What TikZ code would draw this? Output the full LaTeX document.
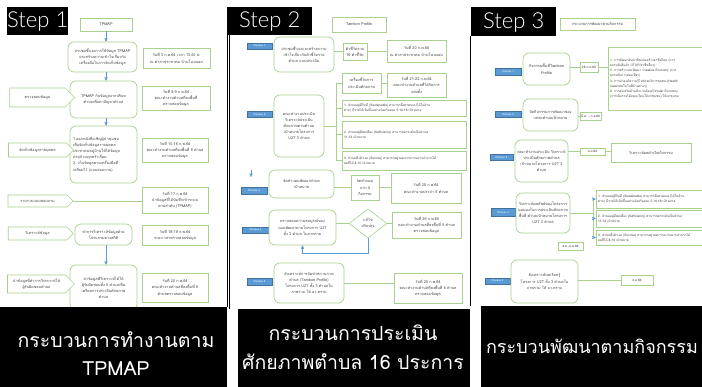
\documentclass[tikz,border=0pt]{standalone}
\usepackage{fontspec}
\newfontfamily\thaifont[Script=Thai]{Loma}
\newfontfamily\stepfont{Lato Light}
\usetikzlibrary{arrows}
\usetikzlibrary{shapes.symbols,shapes.geometric}

\definecolor{boxgreen}{RGB}{169,209,142}
\definecolor{procblue}{RGB}{91,155,213}
\definecolor{procedge}{RGB}{65,113,156}
\definecolor{inktext}{RGB}{64,64,64}

\tikzset{
  wh/.style 2 args={minimum width=#1pt, minimum height=#2pt},
  smalltxt/.style={font=\thaifont\fontsize{3.8}{6.2}\selectfont},
  minitxt/.style={font=\thaifont\fontsize{3.2}{5.2}\selectfont},
  proc/.style={draw=boxgreen, line width=0.7pt, rounded corners=6pt, fill=white, text=inktext, align=center, inner sep=1pt, smalltxt},
  note/.style={draw=boxgreen, line width=0.6pt, fill=white, text=inktext, align=center, inner sep=1pt, smalltxt},
  sig/.style={signal, signal to=east, draw=boxgreen, line width=0.6pt, fill=white, text=inktext, align=center, inner sep=0.5pt, smalltxt},
  check/.style={diamond, draw=boxgreen, line width=0.6pt, fill=white, text=inktext, align=center, inner sep=0pt, smalltxt},
  tag/.style={fill=procblue, draw=procedge, line width=0.3pt, text=white, inner sep=0pt, font=\thaifont\fontsize{2.6}{3}\selectfont},
  link/.style={draw=boxgreen, line width=0.5pt},
  flow/.style={draw=procblue, line width=0.4pt, ->, >=stealth'},
  stepbox/.style={fill=black, text=white, anchor=north west, inner sep=0pt, text depth=3pt, font=\stepfont\fontsize{22}{22}\selectfont},
  capbox/.style={fill=black, anchor=north west, inner sep=0pt},
  captext/.style={text=white, inner sep=0pt, font=\thaifont\fontsize{19.5}{19.5}\selectfont},
}

\begin{document}
\begin{tikzpicture}[x=1pt, y=-1pt]
\useasboundingbox (0,0) rectangle (702,387);
\fill[white] (0,0) rectangle (702,387);

% step 1
\draw[line width=0.8pt] (227.3,35) -- (227.3,307);
\draw[line width=0.8pt] (229.6,35) -- (229.6,309);
\node[stepbox, wh={61}{28}] (step1) at (7,7) {Step 1};
\node[note, wh={52}{13}] (tpmap) at (106,24.5) {TPMAP};
\node[proc, wh={69}{30}] (a1) at (102.5,57) {ประชุมชี้แจงการใช้ข้อมูล TPMAP\\และสร้างความเข้าใจเกี่ยวกับ\\เครื่องมือในการจัดเก็บข้อมูล};
\node[note, wh={67}{20}] (n1) at (176.5,58) {วันที่ 3 ก.พ.64 เวลา 13.00 น.\\ณ ศาลาประชาคม บ้านโนนจอม};
\node[proc, wh={67}{37}] (a2) at (103.5,99.5) {TPMAP กับข้อมูลจากบริบท\\ตำบลเพื่อหาปัญหาตำบล};
\node[sig, wh={65}{19}] (s1) at (37.5,97.5) {ตรวจสอบข้อมูล};
\node[note, wh={68}{24}] (n2) at (176,98) {วันที่ 5-9 ก.พ.64\\คณะทำงานตำบลที่ลงพื้นที่\\ตรวจสอบข้อมูล};
\node[proc, wh={67}{57}, text width=61pt, align=left] (a3) at (103.5,154.5) {1.ออกหนังสือเชิญผู้นำชุมชน\\เพื่อจัดเก็บข้อมูลรายบุคคล\\ประชาคมหมู่บ้านให้ได้ข้อมูล\\ครบถ้วนทุกครัวเรือน\\2. เก็บข้อมูลตามเครื่องมือที่\\เตรียมไว้ (แบบสอบถาม)};
\node[sig, wh={65}{14}] (s2) at (37.5,150) {จัดเก็บข้อมูลรายบุคคล};
\node[note, wh={66}{24}] (n3) at (175,150) {วันที่ 10-16 ก.พ.64\\คณะทำงานตำบลที่ลงพื้นที่ 5 ตำบล\\ตรวจสอบข้อมูล};
\node[sig, wh={65}{12}] (s3) at (37.5,201) {รวบรวมแบบสอบถาม};
\node[note, wh={66}{26}] (n4) at (175,200) {วันที่ 17 ก.พ.64\\นำข้อมูลที่ได้บันทึกเข้าระบบ\\ตามลำดับ (TPMAP)};
\node[sig, wh={65}{13}] (s4) at (37.5,233.5) {วิเคราะห์ข้อมูล};
\node[proc, wh={57}{21}] (a4) at (103.5,234.5) {ทำการวิเคราะห์ข้อมูลด้วย\\โปรแกรมทางสถิติ};
\node[note, wh={66}{20}] (n5) at (175,235) {วันที่ 18-19 ก.พ.64\\ระยะเวลาตรวจสอบข้อมูล};
\node[proc, wh={67}{45}] (a5) at (103.5,287.5) {นำข้อมูลที่วิเคราะห์ได้ให้\\ผู้รับผิดชอบทั้ง 5 ตำบลเพื่อ\\เตรียมการประเมินศักยภาพ\\ตำบล};
\node[sig, wh={67}{18}] (s5) at (36.5,284) {นำข้อมูลที่ทำการวิเคราะห์ให้\\ผู้รับผิดชอบตำบล};
\node[note, wh={66}{29}] (n6) at (175,287.5) {วันที่ 20 ก.พ.64\\คณะทำงานตำบลที่ลงพื้นที่ 5\\ตำบลตรวจสอบข้อมูล};
\draw[flow] (tpmap.south) -- (tpmap.south |- a1.north);
\draw[flow] (a1.south -| tpmap.south) -- (tpmap.south |- a2.north);
\draw[flow] (a2.south -| tpmap.south) -- (tpmap.south |- a3.north);
\draw[flow] (a4.south -| tpmap.south) -- (tpmap.south |- a5.north);
\draw[link] (s3.east) -- (n4.west |- s3.east);

% step 2
\node[stepbox, wh={85}{28}] (step2) at (227,7) {Step 2};
\node[note, wh={54}{15}] (tp) at (359,24.5) {Tambon Profile};
\node[tag, wh={25}{6}] (p1) at (259.5,46) {Process 1};
\node[proc, wh={60}{35}] (b1) at (304,54.5) {ประชุมชี้แจงและสร้างความ\\เข้าใจเกี่ยวกับตัวชี้วัดราย\\ตำบล แบบประเมิน};
\node[note, wh={24}{17}] (c1) at (355,51.5) {ตัวชี้วัดรวม\\16 ตัวชี้วัด};
\node[note, wh={59}{22}] (d1) at (416.5,51) {วันที่ 20 ก.พ.64\\ณ ศาลาประชาคม บ้านโนนจอม};
\node[note, wh={39}{20}] (c2) at (361.5,83) {เครื่องชี้วัดการ\\ประเมินศักยภาพ};
\node[note, wh={59}{24}] (d2) at (416.5,85) {วันที่ 21-22 ก.พ.64\\คณะทำงานตำบลที่ได้รับการ\\แต่งตั้ง};
\node[tag, wh={25}{6}] (p2) at (259.5,114.5) {Process 2};
\node[proc, wh={50}{62}] (b2) at (299,126) {คณะทำงานประเมิน\\วิเคราะห์ประเมิน\\ศักยภาพตามตำบล\\เป้าหมายโครงการ\\U2T 3 ตำบล};
\node[note, wh={124}{16}, text width=120pt, align=left, minitxt] (e1) at (404,108) {1. ตำบลอยู่ดีกินดี (Sustainable) สามารถพึ่งพาตนเองได้ในด้าน\\ต่างๆ มีรายได้เพิ่มขึ้นอย่างน้อยร้อยละ 5 14-16 เป้าหมาย};
\node[note, wh={124}{27}, text width=120pt, align=left, minitxt] (e2) at (404,134.5) {2. ตำบลอยู่ดีพอเพียง (Sufficiency) สามารถยกระดับเป็นตำบล\\11-13 เป้าหมาย};
\node[note, wh={124}{19}, text width=120pt, align=left, minitxt] (e3) at (404,160.5) {3. ตำบลพึ่งตัวเอง (Survive) สามารถอยู่รอดจากความยากลำบากได้\\ผลที่ได้ 8-10 เป้าหมาย};
\coordinate (br2) at (336,126);
\draw[link] (b1.east |- c1.west) -- (c1.west);
\draw[link] (c1.east) -- (d1.west |- c1.east);
\draw[link] (c2.east) -- (d2.west |- c2.east);
\draw[link] (b2.east) -- (br2);
\draw[link] (br2 |- c2.west) -- (br2 |- e3.west);
\foreach \n in {c2,e1,e2,e3} \draw[link] (br2 |- \n.west) -- (\n.west);
\coordinate (dn1) at (251,170);
\coordinate (dn2) at (251,177);
\draw[flow] (dn1) -- (dn2);
\node[tag, wh={26}{7}] (p3) at (254,190.5) {Process 3};
\node[proc, wh={65}{28}] (b3) at (301.5,184) {จัดทำแผนพัฒนาตำบล\\เป้าหมาย};
\node[note, wh={28}{25}] (c3) at (365,187.5) {จัดทำแผน\\จาก 4\\กิจกรรม};
\node[note, wh={70}{30}] (d3) at (426,188) {วันที่ 25 ก.พ.64\\คณะทำงานประจำ 5 ตำบล};
\draw[link] (b3.east |- c3.west) -- (c3.west);
\draw[link] (c3.east) -- (d3.west |- c3.east);
\node[tag, wh={27}{6}] (p4) at (255.5,230) {Process 4};
\node[proc, wh={67}{35}] (b4) at (302.5,227.5) {ตรวจสอบความสมบูรณ์ของ\\แผนพัฒนาตามโครงการ U2T\\ทั้ง 3 ตำบล ในภาพรวม};
\node[check, wh={38}{29}] (fix) at (368,223.5) {แก้ไข\\ปรับปรุง};
\node[note, wh={69}{26}] (d4) at (426.5,225) {วันที่ 26 ก.พ.64\\คณะทำงานตำบลที่ลงพื้นที่ 5 ตำบล\\ตรวจสอบข้อมูล};
\draw[link] (b4.east |- fix.west) -- (fix.west);
\draw[link] (fix.east) -- (d4.west |- fix.east);
\draw[flow] (fix.south) -- ++(0,15) -| (b4.south);
\node[tag, wh={25}{7}] (p5) at (259.5,281.5) {Process 5};
\node[proc, wh={70}{40}] (b5) at (309,283) {สังเคราะห์การจัดทำสถานภาพ\\ตำบล (Tambon Profile)\\โครงการ U2T ทั้ง 3 ตำบลใน\\ภาพรวม ให้ อว.ทราบ};
\node[note, wh={68}{30}] (d5) at (428,288) {วันที่ 25 ก.พ.64\\คณะทำงานตำบลที่ลงพื้นที่ 5 ตำบล\\ตรวจสอบข้อมูล};
\draw[link] (b5.east) -- (d5.west |- b5.east);

% step 3
\draw[line width=0.8pt] (470.5,36) -- (470.5,306);
\node[stepbox, wh={85}{29}] (step3) at (471,7) {Step 3};
\node[note, wh={75}{12}] (tk) at (597.5,24) {กระบวนการพัฒนาตามกิจกรรม};
\node[tag, wh={26}{7}] (q1) at (508,71.5) {Process 1};
\node[proc, wh={47}{32}] (f1) at (546.5,69) {กิจกรรมพื้นที่Tambon\\Profile};
\node[note, wh={18}{10}, minitxt] (h1) at (589,67) {26 ก.พ.64};
\node[note, wh={97}{63}, text width=93pt, align=left, minitxt, inner xsep=2pt] (acts) at (656.5,78.5) {1. การพัฒนาสัมมาชีพและสร้างอาชีพใหม่ (การ\\ยกระดับสินค้า OTOP/อาชีพอื่นๆ)\\2. การสร้างและพัฒนา Creative Economy (การ\\ยกระดับการท่องเที่ยว)\\3. การนำองค์ความรู้ไปช่วยบริการชุมชน (Health\\Care/เทคโนโลยีด้านต่างๆ)\\4. การส่งเสริมด้านสิ่งแวดล้อม/Circular Economy\\(การเพิ่มรายได้หมุนเวียนให้แก่ชุมชน) ให้แก่ชุมชน};
\draw[link] (f1.east |- h1.west) -- (h1.west);
\draw[link] (h1.east) -- (acts.west |- h1.east);
\node[tag, wh={26}{6}] (q2) at (508,114.5) {Process 2};
\node[proc, wh={55}{32}] (f2) at (550.5,115) {จัดกิจกรรมการพัฒนาของ\\แต่ละตำบลเป้าหมาย};
\node[note, wh={21}{8}, minitxt] (h2) at (590.5,116) {มี.ค. - ก.ย.64};
\draw[link] (f2.east |- h2.west) -- (h2.west);
\node[tag, wh={23}{6}] (q3) at (501.5,157.5) {Process 3};
\node[proc, wh={53}{42}] (f3) at (541.5,161) {คณะทำงานประเมิน วิเคราะห์\\ประเมินศักยภาพตำบล\\เป้าหมายโครงการ U2T 3\\ตำบล};
\node[note, wh={25}{7}, minitxt] (h3) at (592.5,151.5) {ส.ค.64};
\node[note, wh={80}{19}] (r3) at (651,152.5) {วิเคราะห์ผลดำเนินกิจกรรม};
\draw[link] (f3.east |- h3.west) -- (h3.west);
\draw[link] (h3.east) -- (r3.west |- h3.east);
\node[tag, wh={24}{8}] (q4) at (503,212.5) {Process 4};
\node[proc, wh={54}{40}] (f4) at (543,213) {วิเคราะห์ผลลัพธ์ของโครงการ\\มุมมองในการประเมินศักยภาพ\\พื้นที่ ตำบลเป้าหมายโครงการ\\U2T 3 ตำบล};
\node[note, wh={109}{18}, text width=105pt, align=left, minitxt, inner xsep=2pt] (k1) at (650.5,199) {1. ตำบลอยู่ดีกินดี (Sustainable) สามารถพึ่งพาตนเองได้ในด้าน\\ต่างๆ มีรายได้เพิ่มขึ้นอย่างน้อยร้อยละ 5 14-16 เป้าหมาย};
\node[note, wh={109}{17}, text width=105pt, align=left, minitxt, inner xsep=2pt] (k2) at (650.5,218.5) {2. ตำบลอยู่ดีพอเพียง (Sufficiency) สามารถยกระดับเป็นตำบล\\11-13 เป้าหมาย};
\node[note, wh={109}{15}, text width=105pt, align=left, minitxt, inner xsep=2pt] (k3) at (650.5,237.5) {3. ตำบลพึ่งตัวเอง (Survive) สามารถอยู่รอดจากความยากลำบากได้\\ผลที่ได้ 8-10 เป้าหมาย};
\coordinate (br3) at (593,213);
\draw[link] (f4.east) -- (br3);
\draw[link] (br3 |- k1.west) -- (br3 |- k3.west);
\foreach \n in {k1,k2,k3} \draw[flow] (br3 |- \n.west) -- (\n.west);
\node[note, wh={25}{8}, minitxt] (h4) at (570.5,246) {ส.ค.-พ.ย.64};
\node[tag, wh={25}{6}] (q5) at (497.5,281) {Process 5};
\node[proc, wh={67}{43}] (f5) at (544.5,281.5) {สังเคราะห์บทเรียนรู้\\โครงการ U2T ทั้ง 3 ตำบลใน\\ภาพรวม ให้ อว.ทราบ};
\node[note, wh={32}{10}, minitxt] (h5) at (637,280) {ธ.ค.64};
\draw[link] (f5.east |- h5.west) -- (h5.west);

% captions
\node[capbox, wh={227}{80}] (cap1) at (0,307) {};
\node[capbox, wh={232}{78}] (cap2) at (238,309) {};
\node[capbox, wh={221}{81}] (cap3) at (481,306) {};
\node[captext] (cap1a) at (116,340) {กระบวนการทำงานตาม};
\node[captext] (cap1b) at (116,369) {TPMAP};
\node[captext] (cap2a) at (353,333) {กระบวนการประเมิน};
\node[captext] (cap2b) at (353,362) {ศักยภาพตำบล 16 ประการ};
\node[captext, font=\thaifont\fontsize{18}{18}\selectfont] (cap3a) at (592,346) {กระบวนพัฒนาตามกิจกรรม};
\end{tikzpicture}
\end{document}
